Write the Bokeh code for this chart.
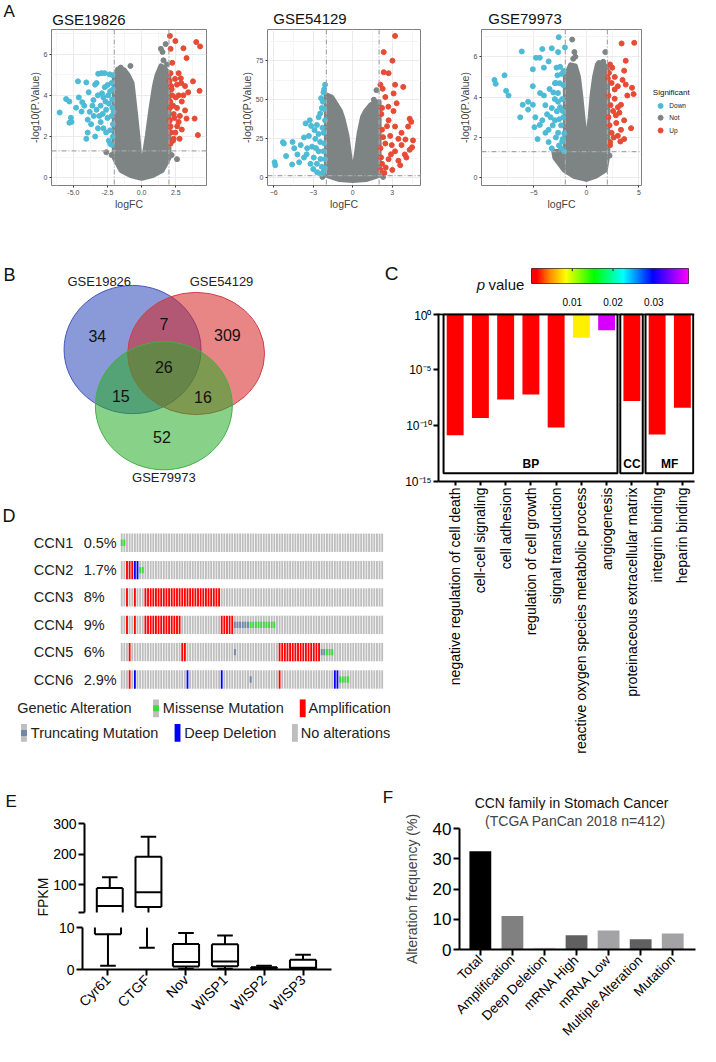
import numpy as np
from bokeh.plotting import figure
from bokeh.models import (Range1d, FixedTicker, Span, Title, ColumnDataSource,
                          LinearColorMapper, PrintfTickFormatter)
from bokeh.layouts import row, column
from bokeh.embed import file_html
from bokeh.resources import INLINE
from bokeh.core.properties import value
from bokeh.transform import linear_cmap

FONT = "Liberation Sans"
GREY = "#7E8484"
BLUE = "#4DBBD5"
RED = "#E64B35"

# ---------------- Panel A data (logFC, -log10 p) ----------------
a_titles = ["GSE19826", "GSE54129", "GSE79973"]
sig_labels = ["Down", "Not", "Up"]

a1_down = [(-6.0,3.17),(-5.53,3.82),(-5.29,3.7),(-5.18,2.91),(-5.13,2.71),(-5.29,2.67),(-4.66,4.68),
           (-4.35,3.67),(-4.4,3.21),(-4.05,4.63),(-3.88,4.15),(-3.95,2.82),(-4.05,1.89),(-3.95,2.19),
           (-3.41,4.52),(-3.53,3.77),(-3.18,5.05),(-2.94,5.08),(-2.71,5.08),(-2.35,5.02),(-2.12,4.98),
           (-3.2,4.0),(-3.0,3.5),(-2.8,3.9),(-2.6,3.3),(-2.4,3.6),(-2.2,3.0),(-2.1,2.6),(-2.3,4.2),
           (-2.5,4.5),(-2.7,4.4),(-2.9,4.1),(-3.3,3.3),(-3.5,3.0),(-3.6,3.5),(-3.8,3.2),(-3.0,2.7),
           (-2.8,2.4),(-2.6,2.2),(-2.4,1.8),(-2.2,1.6),(-2.1,2.0),(-2.5,2.9),(-3.2,2.4),(-3.4,2.0),
           (-2.3,1.65),(-3.1,3.0),(-2.15,3.4),(-2.2,4.6),(-2.45,4.0),(-2.65,3.7),(-2.85,3.1),(-3.7,2.6),
           (-4.2,3.5),(-4.6,3.9),(-4.8,3.4),(-3.3,4.6),(-2.1,4.3),(-2.15,3.8),(-2.3,2.3),(-2.05,3.2)]
a1_up = [(2.07,6.89),(2.12,6.26),(2.47,6.64),(3.06,6.29),(4.0,6.59),(4.28,6.38),(3.29,5.81),(2.24,5.58),
         (2.12,5.08),(2.71,5.08),(2.87,4.83),(3.76,4.68),(4.24,4.22),(3.41,4.15),(3.18,4.45),(2.59,4.52),
         (2.24,4.0),(2.94,3.7),(2.59,3.39),(2.35,3.09),(3.18,3.27),(3.29,2.87),(2.71,2.71),(2.12,2.49),
         (2.47,2.19),(2.94,2.34),(3.88,2.87),(4.12,2.07),(2.12,1.66),(2.35,1.89),(2.07,3.39),(2.16,4.45),
         (2.07,2.79),(2.71,4.0),(3.06,4.0),(2.78,1.89),(2.3,3.5),(2.2,4.3),(2.5,3.9),(2.6,2.5),(2.4,2.9),
         (2.15,2.2),(2.8,3.0),(2.3,1.8),(2.05,4.7),(2.9,4.6),(2.1,3.7),(2.45,4.8)]
a1_not = [(1.76,6.49),(1.41,6.26),(1.53,6.11),(1.6,5.7),(1.85,5.5),(-0.82,5.43),(-1.53,5.35),(-1.75,5.2),
          (-2.59,1.24),(2.59,0.9),(-1.1,0.3),(-2.2,1.1),(2.2,1.1),(-0.3,0.1),(0.5,0.2)]
a1_dense = [(-2.0,0.95),(-2.0,4.9),(-1.75,5.28),(-1.3,5.25),(-1.0,5.0),(-0.7,4.6),(-0.47,3.24),(-0.28,2.04),
            (-0.12,0.83),(0.0,0.35),(0.15,0.9),(0.42,2.04),(0.66,3.24),(0.94,4.45),(1.13,4.98),(1.41,5.43),
            (1.7,5.3),(2.0,5.05),(2.0,0.95),(1.5,0.35),(0.8,0.1),(0.0,-0.03),(-0.8,0.1),(-1.5,0.35)]

a2_down = [(-5.93,9.9),(-5.88,8.0),(-5.23,21.9),(-5.3,22.8),(-5.06,13.9),(-4.57,22.9),(-4.44,18.9),
           (-4.2,14.9),(-3.95,20.9),(-3.7,25.8),(-3.58,34.8),(-3.26,36.8),(-3.16,33.2),(-3.33,26.8),
           (-2.72,33.8),(-2.47,41.2),(-2.35,44.7),(-2.27,48.7),(-2.22,54.7),(-2.1,59.6),(-2.17,56.7),
           (-2.59,38.8),(-2.84,24.9),(-3.09,19.9),(-3.46,18.9),(-3.7,12.9),(-3.21,8.9),(-2.72,8.9),
           (-2.35,7.0),(-2.22,4.0),(-2.59,16.9),(-2.96,12.9),(-2.47,22.9),(-2.22,28.8),(-2.1,36.8),
           (-2.22,16.9),(-2.1,11.9),(-4.07,9.9),(-2.3,32.0),(-2.6,28.0),(-2.9,30.5),(-2.15,44.0),
           (-2.4,51.0),(-2.8,19.0),(-3.5,15.0),(-2.15,22.0),(-2.45,12.0),(-2.1,6.0),(-3.0,5.5),
           (-2.7,3.5),(-2.35,2.5),(-4.6,8.5)]
a2_up = [(3.21,90.9),(2.35,80.5),(3.01,75.0),(2.35,67.6),(2.72,67.0),(2.1,59.6),(2.27,57.0),(3.21,59.6),
         (3.83,58.2),(2.47,51.7),(3.33,47.7),(3.09,42.7),(2.22,44.7),(2.17,40.8),(2.72,36.8),(4.32,37.8),
         (4.44,35.8),(4.2,32.8),(3.7,28.8),(4.57,23.9),(3.46,24.9),(2.84,26.8),(2.22,30.8),(2.47,21.9),
         (2.1,18.9),(3.21,16.9),(3.95,14.9),(4.32,17.9),(2.72,11.9),(2.22,8.9),(2.1,5.0),(3.46,10.9),
         (4.07,12.9),(2.96,20.9),(3.7,20.9),(3.21,32.8),(2.6,33.0),(2.3,26.0),(2.9,15.0),(2.5,6.5),
         (3.0,5.0),(2.15,13.0),(2.7,45.5),(3.1,54.0),(4.5,19.5),(3.6,8.0),(2.4,3.0),(4.0,24.5)]
a2_not = [(-1.98,52.7),(1.8,56.1),(1.6,50.0),(-1.7,50.5),(-2.3,0.5),(2.3,0.5)]
a2_dense = [(-2.0,1.5),(-2.0,53.0),(-1.6,51.7),(-1.23,46.7),(-0.94,42.7),(-0.74,37.8),(-0.44,26.8),
            (-0.25,14.9),(-0.12,7.0),(0.0,4.0),(0.12,7.0),(0.3,16.9),(0.49,28.8),(0.74,38.8),(0.94,42.3),
            (1.36,46.7),(1.68,48.3),(2.0,48.7),(2.0,1.5),(1.0,-1.2),(0.0,-1.8),(-1.0,-1.2)]

a3_down = [(-8.74,4.85),(-8.62,4.66),(-7.78,5.08),(-7.63,4.31),(-7.4,4.08),(-6.29,3.0),(-6.05,3.62),
           (-6.14,6.26),(-5.09,5.38),(-5.09,4.54),(-4.94,2.51),(-4.79,5.95),(-4.43,5.95),(-4.19,6.38),
           (-4.04,5.46),(-3.59,5.77),(-3.29,6.42),(-2.69,6.23),(-2.63,6.97),(-2.04,6.46),(-2.84,5.46),
           (-2.34,5.15),(-2.75,5.08),(-2.99,4.69),(-2.54,4.69),(-5.09,3.62),(-5.54,3.77),(-5.54,3.38),
           (-4.85,3.0),(-4.64,1.92),(-4.43,2.62),(-4.04,4.08),(-3.89,2.23),(-3.59,1.77),(-3.29,1.46),
           (-3.29,3.46),(-3.74,3.15),(-4.19,2.85),(-2.99,2.85),(-2.69,2.23),(-2.4,1.46),(-2.1,1.31),
           (-2.25,1.92),(-2.69,3.77),(-2.25,3.31),(-3.14,4.23),(-3.59,2.38),(-2.2,4.6),(-2.3,3.9),
           (-2.5,3.5),(-2.2,3.0),(-2.4,2.6),(-2.6,2.9),(-2.8,3.3),(-3.0,3.9),(-2.7,4.2),(-2.1,2.2),
           (-2.3,1.8),(-2.6,1.6),(-2.9,2.0),(-3.2,2.6),(-3.4,3.0),(-2.15,5.3),(-2.5,5.5),(-2.9,4.7),
           (-3.5,4.4),(-3.9,3.6),(-4.4,4.2)]
a3_up = [(3.35,6.66),(4.55,6.69),(3.74,5.8),(2.25,5.62),(2.46,5.46),(3.59,5.31),(3.44,4.85),(4.34,4.46),
         (4.49,4.15),(3.89,4.08),(3.74,4.62),(2.99,4.54),(2.69,3.92),(3.29,3.62),(3.14,3.23),(3.59,2.85),
         (4.25,2.46),(2.84,2.72),(3.29,2.38),(3.59,1.92),(3.23,1.8),(2.4,2.23),(2.25,1.77),(2.1,3.0),
         (2.54,3.31),(2.1,4.08),(2.69,4.38),(2.25,1.62),(2.99,2.08),(2.04,4.92),(2.3,3.6),(2.2,2.6),
         (2.6,2.0),(2.8,3.1),(2.4,4.7),(2.15,5.2),(2.7,5.0),(3.0,3.5)]
a3_not = [(-1.35,6.85),(-1.14,6.23),(-1.05,6.0),(-1.25,5.9),(1.8,6.23),(1.2,5.69),(1.6,5.75),
          (-2.5,1.1),(-2.8,1.2),(2.2,1.1)]
a3_dense = [(-2.0,1.3),(-2.0,5.0),(-1.8,5.23),(-1.5,5.6),(-1.05,5.54),(-0.75,5.0),(-0.54,4.08),(-0.3,2.85),
            (-0.15,2.08),(0.0,1.58),(0.15,2.08),(0.36,3.0),(0.54,4.08),(0.78,5.0),(1.05,5.62),(1.5,5.69),
            (1.95,5.46),(2.0,5.3),(2.04,1.15),(1.8,0.38),(0.9,0.08),(0.0,-0.08),(-1.2,0.08),(-2.1,0.38),
            (-3.0,1.0),(-3.1,1.3)]
a_fc_cut = 2.0
a_p_cut = 1.3

# ---------------- Panel B data ----------------
venn_sets = ["GSE19826", "GSE54129", "GSE79973"]
venn_regions = ["1", "2", "3", "12", "13", "23", "123"]
venn_counts = [34, 309, 52, 7, 15, 16, 26]

# ---------------- Panel C data ----------------
go_terms = ["negative regulation of cell death", "cell-cell signaling", "cell adhesion",
            "regulation of cell growth", "signal transduction",
            "reactive oxygen species metabolic process", "angiogenesis",
            "proteinaceous extracellular matrix", "integrin binding", "heparin binding"]
go_p = [1.4e-11, 5e-10, 2.3e-8, 6.3e-8, 7e-11, 7.9e-3, 3.7e-2, 1.65e-8, 1.6e-11, 4e-9]
go_group = ["BP", "BP", "BP", "BP", "BP", "BP", "BP", "CC", "MF", "MF"]
cb_ticks = [0.01, 0.02, 0.03]

# ---------------- Panel D data ----------------
onco_genes = ["CCN1", "CCN2", "CCN3", "CCN4", "CCN5", "CCN6"]
onco_pct = ["0.5%", "1.7%", "8%", "9%", "6%", "2.9%"]
onco_columns = 100
onco_amp = {"CCN2": [(2, 4)], "CCN3": [(2, 2), (5, 5), (9, 37)],
            "CCN4": [(2, 2), (5, 5), (9, 22), (38, 42)],
            "CCN5": [(3, 3), (23, 24), (60, 75)], "CCN6": [(3, 3), (60, 60)]}
onco_del = {"CCN2": [(5, 6)], "CCN6": [(5, 5), (25, 25), (38, 38), (81, 82)]}
onco_missense = {"CCN1": [(0, 1)], "CCN2": [(7, 8)], "CCN4": [(49, 58)],
                 "CCN5": [(78, 80)], "CCN6": [(83, 86)]}
onco_trunc = {"CCN4": [(43, 48)], "CCN5": [(43, 43), (76, 77)], "CCN6": [(49, 49)]}
onco_legend = ["Genetic Alteration", "Missense Mutation", "Amplification",
               "Truncating Mutation", "Deep Deletion", "No alterations"]

# ---------------- Panel E data ----------------
e_genes = ["Cyr61", "CTGF", "Nov", "WISP1", "WISP2", "WISP3"]
e_min = [0.9, 5.2, 0.15, 0.15, 0.05, 0.05]
e_q1 = [8.4, 28.0, 0.7, 0.8, 0.25, 0.2]
e_med = [31.0, 76.0, 1.8, 1.9, 0.4, 0.4]
e_q3 = [90.0, 192.0, 6.1, 6.0, 0.55, 2.3]
e_max = [125.0, 257.0, 8.7, 8.1, 0.9, 3.5]

# ---------------- Panel F data ----------------
f_title = ["CCN family  in Stomach Cancer", "(TCGA PanCan 2018  n=412)"]
f_cats = ["Total", "Amplification", "Deep Deletion", "mRNA High", "mRNA Low",
          "Multiple Alteration", "Mutation"]
f_vals = [32.5, 11.1, 0.6, 4.7, 6.3, 3.4, 5.3]
f_colors = ["#000000", "#808080", "#D9D9D9", "#606060", "#A3A3A6", "#606060", "#A3A3A6"]


# ---------------- helpers ----------------
def unzip(pts):
    return [a for a, b in pts], [b for a, b in pts]


def base_fig(w, h, l, r, t, b, **kw):
    return figure(width=w, height=h, output_backend="svg", toolbar_location=None,
                  min_border_left=l, min_border_right=r, min_border_top=t, min_border_bottom=b, **kw)


def free_fig(w, h, x0, x1, ytop, ybot):
    """Axis-less figure whose data coordinates follow the reference layout pixels."""
    p = base_fig(w, h, 0, 0, 0, 0, x_range=Range1d(x0, x1), y_range=Range1d(ybot, ytop))
    p.axis.visible = False
    p.grid.visible = False
    p.outline_line_color = None
    return p


def txt(p, xs, ys, texts, size, align="left", baseline="middle", style="normal", angle=0, color="#111111"):
    p.text(x=xs, y=ys, text=texts, text_font=value(FONT), text_font_size=value(size),
           text_align=align, text_baseline=baseline, text_font_style=style, angle=angle,
           text_color=color)


def W(p):
    return column(p)


def volcano(w, h, l, r, t, b, xr, yr, xt, xm, yt, ym, down, up, notp, dense, xfmt=None):
    p = base_fig(w, h, l, r, t, b, x_range=Range1d(*xr), y_range=Range1d(*yr))
    p.outline_line_color = "#7F7F7F"
    p.outline_line_width = 1
    p.xaxis.ticker = FixedTicker(ticks=xt, minor_ticks=xm)
    p.yaxis.ticker = FixedTicker(ticks=yt, minor_ticks=ym)
    if xfmt:
        p.xaxis.formatter = PrintfTickFormatter(format=xfmt)
    p.xaxis.axis_label = "logFC"
    p.yaxis.axis_label = "-log10(P.Value)"
    for ax in [p.xaxis[0], p.yaxis[0]]:
        ax.axis_line_color = None
        ax.major_tick_line_color = "#333333"
        ax.major_tick_out = 2
        ax.major_tick_in = 0
        ax.minor_tick_line_color = None
        ax.major_label_text_font = FONT
        ax.major_label_text_font_size = "7px"
        ax.major_label_text_color = "#4D4D4D"
        ax.major_label_standoff = 0
        ax.axis_label_text_font = FONT
        ax.axis_label_text_font_size = "10.5px"
        ax.axis_label_text_font_style = "normal"
        ax.axis_label_standoff = 0
    for g in [p.xgrid[0], p.ygrid[0]]:
        g.grid_line_color = "#EBEBEB"
        g.minor_grid_line_color = "#F5F5F5"
    dx, dy = unzip(dense)
    p.patch(dx, dy, fill_color=GREY, line_color=GREY, line_width=5, line_join="round")
    nx, ny = unzip(notp)
    p.scatter(nx, ny, size=5, color=GREY)
    ux, uy = unzip(up)
    p.scatter(ux, uy, size=5, color=RED)
    wx, wy = unzip(down)
    p.scatter(wx, wy, size=5, color=BLUE)
    for loc in (-a_fc_cut, a_fc_cut):
        p.add_layout(Span(location=loc, dimension="height", line_color="#A8A8A8",
                          line_dash="5 2 1 2", line_width=1.2))
    p.add_layout(Span(location=a_p_cut, dimension="width", line_color="#A8A8A8",
                      line_dash="5 2 1 2", line_width=1.2))
    return p


# ---------------- Panel A ----------------
a_strip = free_fig(700, 27, 0, 716, 0, 27.4)
txt(a_strip, [3], [2], ["A"], "17px", baseline="top")
txt(a_strip, [53, 279, 499], [19, 18, 18], a_titles, "15px")

a1 = volcano(228, 185, 51, 22, 2, 22, (-6.6, 4.75), (-0.38, 7.2),
             [-5, -2.5, 0, 2.5], [-6.25, -3.75, -1.25, 1.25, 3.75], [0, 2, 4, 6], [1, 3, 5, 7],
             a1_down, a1_up, a1_not, a1_dense, xfmt="%.1f")
a2 = volcano(222, 185, 39, 30, 2, 22, (-6.47, 5.14), (-5, 95),
             [-6, -3, 0, 3], [-4.5, -1.5, 1.5, 4.5], [0, 25, 50, 75], [12.5, 37.5, 62.5, 87.5],
             a2_down, a2_up, a2_not, a2_dense)
a3 = volcano(192, 185, 31, 1, 2, 22, (-9.97, 5.24), (-0.38, 7.35),
             [-5, 0, 5], [-7.5, -2.5, 2.5], [0, 2, 4, 6], [1, 3, 5, 7],
             a3_down, a3_up, a3_not, a3_dense)
# legend of the significance groups (drawn beside the third volcano plot)
a_leg = free_fig(58, 185, 656.4, 716, 27.4, 215.2)
txt(a_leg, [667], [93], ["Significant"], "8px", color="#111111")
a_leg.scatter(x=[675, 675, 675], y=[107, 119, 132], size=5, color=[BLUE, GREY, RED])
txt(a_leg, [684, 684, 684], [107, 119, 132], sig_labels, "6.5px", color="#222222")

# ---------------- Panel B (Venn) + letter C ----------------
b = free_fig(401, 280, 0, 410, 215, 499)
venn_geo_x = [135, 200, 167]
venn_geo_y = [354, 358, 411]
venn_geo_h = [130, 124, 130]
venn_fill = ["#2A47B8", "#D52323", "#27AB27"]
venn_line = ["#4656BE", "#D0404E", "#45AE45"]
for i in range(3):
    b.ellipse(x=[venn_geo_x[i]], y=[venn_geo_y[i]], width=140, height=venn_geo_h[i],
              fill_color=venn_fill[i], fill_alpha=0.55, line_color=venn_line[i], line_width=1)
txt(b, [101, 226, 167], [285, 285, 484], venn_sets, "13px", align="center", color="#222222")
reg_pos = {"1": (99, 340), "2": (232, 339), "3": (165, 443), "12": (167, 328),
           "13": (123, 401), "23": (207, 402), "123": (167, 372)}
txt(b, [reg_pos[r][0] for r in venn_regions], [reg_pos[r][1] for r in venn_regions],
    [str(c) for c in venn_counts], "16px", align="center")
txt(b, [3], [268], ["B"], "18px", baseline="top")
txt(b, [393], [266], ["C"], "19px", baseline="top")

# ---------------- Panel D (oncoprint) ----------------
d = free_fig(401, 272, 0, 410, 499, 775)
X0, PITCH, CW, HH = 123.0, 2.69, 1.9, 9.3
row_y = [550 + 27.75 * i for i in range(len(onco_genes))]


def expand(runs):
    out = []
    for s, e in runs:
        out.extend(range(s, e + 1))
    return out


cell = dict(l=[], r=[], t=[], b=[], c=[])
mut = dict(l=[], r=[], t=[], b=[], c=[])
for gi, g in enumerate(onco_genes):
    yc = row_y[gi]
    amp = set(expand(onco_amp.get(g, [])))
    dl = set(expand(onco_del.get(g, [])))
    for k in range(onco_columns):
        col = "#FF0000" if k in amp else ("#0000FF" if k in dl else "#BEBEBE")
        cell["l"].append(X0 + PITCH * k); cell["r"].append(X0 + PITCH * k + CW)
        cell["t"].append(yc - HH); cell["b"].append(yc + HH); cell["c"].append(col)
    for runs, col in ((onco_missense.get(g, []), "#3BDB3B"), (onco_trunc.get(g, []), "#6F86A6")):
        for k in expand(runs):
            mut["l"].append(X0 + PITCH * k); mut["r"].append(X0 + PITCH * k + CW)
            mut["t"].append(yc - 3.2); mut["b"].append(yc + 3.2); mut["c"].append(col)
d.quad(left=cell["l"], right=cell["r"], top=cell["t"], bottom=cell["b"], fill_color=cell["c"], line_color=None)
d.quad(left=mut["l"], right=mut["r"], top=mut["t"], bottom=mut["b"], fill_color=mut["c"], line_color=None)
txt(d, [34] * 6, row_y, onco_genes, "14.5px", color="#222222")
txt(d, [85] * 6, row_y, onco_pct, "14.5px", color="#222222")
icon_l = [156, 306, 21, 178, 298]
icon_y = [718, 718, 743, 743, 743]
icon_c = ["#BEBEBE", "#FF0000", "#BEBEBE", "#0000FF", "#BEBEBE"]
d.quad(left=icon_l, right=[v + 6 for v in icon_l], top=[v - 9 for v in icon_y],
       bottom=[v + 9 for v in icon_y], fill_color=icon_c, line_color=None)
d.quad(left=[156, 21], right=[162, 27], top=[715, 740], bottom=[721, 746],
       fill_color=["#3BDB3B", "#6F86A6"], line_color=None)
txt(d, [17, 166, 315, 31, 188, 307], [718, 718, 718, 743, 743, 743], onco_legend, "14.5px", color="#222222")
txt(d, [2], [513], ["D"], "18px", baseline="top")

# ---------------- Panel C ----------------
CB_STOPS = [(0.0, "#FF0000"), (0.0012, "#FF0000"), (0.0045, "#FF8C00"), (0.0084, "#FFFF00"),
            (0.0153, "#00FF00"), (0.0225, "#00FFFF"), (0.0298, "#0000FF"), (0.0385, "#FF00FF")]
CB_HIGH = 0.0385


def make_palette(stops, n):
    pal = []
    for i in range(n):
        t = stops[-1][0] * i / (n - 1)
        for j in range(len(stops) - 1):
            a, ca = stops[j]
            bb, cbb = stops[j + 1]
            if a <= t <= bb:
                f = 0 if bb == a else (t - a) / (bb - a)
                c1 = [int(ca[k:k + 2], 16) for k in (1, 3, 5)]
                c2 = [int(cbb[k:k + 2], 16) for k in (1, 3, 5)]
                pal.append("#%02X%02X%02X" % tuple(int(round(c1[m] + (c2[m] - c1[m]) * f)) for m in range(3)))
                break
    return pal


PAL = make_palette(CB_STOPS, 256)
mapper = LinearColorMapper(palette=PAL, low=0, high=CB_HIGH)

c_lab = free_fig(130, 96, 410, 543, 215, 312.5)
txt(c_lab, [487], [288], ["p"], "15px", baseline="alphabetic", style="italic")
txt(c_lab, [499], [288], ["value"], "15px", baseline="alphabetic")

ccb = base_fig(169, 96, 0, 12, 56, 19, x_range=Range1d(0, CB_HIGH), y_range=Range1d(0, 1))
ccb.image(image=[np.linspace(0, CB_HIGH, 256)[None, :]], x=0, y=0, dw=CB_HIGH, dh=1, color_mapper=mapper)
ccb.segment(x0=cb_ticks, y0=[1] * 3, x1=cb_ticks, y1=[0.82] * 3, line_color="#222222", line_width=1)
ccb.yaxis.visible = False
ccb.grid.visible = False
ccb.outline_line_color = "#333333"
ccb.xaxis.ticker = FixedTicker(ticks=cb_ticks)
ccb.xaxis.axis_line_color = None
ccb.xaxis.major_tick_line_color = None
ccb.xaxis.minor_tick_line_color = None
ccb.xaxis.major_label_text_font = FONT
ccb.xaxis.major_label_text_font_size = "10px"
ccb.xaxis.major_label_text_color = "black"
ccb.xaxis.major_label_standoff = 8

csrc = ColumnDataSource(dict(x=list(range(len(go_terms))), p=go_p))
cm = base_fig(299, 456, 37, 6, 5, 283, x_range=Range1d(-0.66, 9.48), y_range=Range1d(1e-15, 1.15),
              y_axis_type="log")
cm.grid.visible = False
cm.outline_line_color = None
cm.vbar(x="x", top=1, bottom="p", width=0.67, source=csrc,
        fill_color=linear_cmap("p", PAL, 0, CB_HIGH), line_color=None)
groups = []
for g in go_group:
    if g not in groups:
        groups.append(g)
gl, gr, gc = [], [], []
for g in groups:
    idx = [i for i, v in enumerate(go_group) if v == g]
    gl.append(min(idx) - 0.46)
    gr.append(max(idx) + 0.43)
    gc.append((min(idx) + max(idx)) / 2)
cm.quad(left=gl, right=gr, top=1, bottom=10 ** -14.25, fill_color=None, line_color="black", line_width=2)
cm.add_layout(Span(location=1, dimension="width", line_color="black", line_width=2))
txt(cm, gc, [10 ** -13.4] * len(gc), groups, "12px", align="center", style="bold", color="black")


def prism_axis(ax, size, tick_out=6):
    ax.axis_line_width = 2
    ax.axis_line_color = "black"
    ax.major_tick_line_width = 2
    ax.major_tick_line_color = "black"
    ax.major_tick_out = tick_out
    ax.major_tick_in = 0
    ax.minor_tick_line_color = None
    ax.major_label_text_font = FONT
    ax.major_label_text_font_size = size
    ax.major_label_text_color = "black"
    ax.axis_label_text_font = FONT
    ax.axis_label_text_font_style = "normal"
    ax.major_label_standoff = 2


prism_axis(cm.yaxis[0], "12px", 5)
cm.yaxis.ticker = FixedTicker(ticks=[1e-15, 1e-10, 1e-5, 1])
cm.yaxis.major_label_overrides = {1e-15: "10\u207b\u00b9\u2075", 1e-10: "10\u207b\u00b9\u2070",
                                  1e-5: "10\u207b\u2075", 1: "10\u2070"}
prism_axis(cm.xaxis[0], "14px", 4)
cm.xaxis.ticker = FixedTicker(ticks=list(range(len(go_terms))))
cm.xaxis.major_label_overrides = {i: t for i, t in enumerate(go_terms)}
cm.xaxis.major_label_orientation = np.pi / 2

# ---------------- Panel E (broken y axis: two stacked plots) ----------------
ex = list(range(len(e_genes)))


def draw_box(p, lo, hi):
    def keep(vals):
        return [i for i, v in enumerate(vals) if lo <= v <= hi]
    p.segment(x0=ex, y0=e_q3, x1=ex, y1=e_max, line_width=2, line_color="black")
    p.segment(x0=ex, y0=e_min, x1=ex, y1=e_q1, line_width=2, line_color="black")
    p.vbar(x=ex, width=0.67, top=e_q3, bottom=e_q1, fill_color="white", line_color=None)
    p.segment(x0=[v - 0.335 for v in ex], y0=e_q1, x1=[v - 0.335 for v in ex], y1=e_q3,
              line_width=2, line_color="black")
    p.segment(x0=[v + 0.335 for v in ex], y0=e_q1, x1=[v + 0.335 for v in ex], y1=e_q3,
              line_width=2, line_color="black")
    for vals, half in ((e_q1, 0.335), (e_q3, 0.335), (e_med, 0.335), (e_max, 0.2), (e_min, 0.2)):
        ii = keep(vals)
        p.segment(x0=[ex[i] - half for i in ii], y0=[vals[i] for i in ii],
                  x1=[ex[i] + half for i in ii], y1=[vals[i] for i in ii],
                  line_width=2, line_color="black")


e_lab = free_fig(50, 282, 0, 51.1, 775, 1062)
txt(e_lab, [5], [803], ["E"], "17px", baseline="top")
txt(e_lab, [43], [910], ["FPKM"], "14px", align="center", angle=np.pi / 2)

e_xr = Range1d(-0.653, 5.73)
etop = base_fig(305, 155, 32, 24, 59, 7, x_range=e_xr, y_range=Range1d(10, 300))
ebot = base_fig(305, 127, 32, 24, 8, 77, x_range=e_xr, y_range=Range1d(0, 10))
draw_box(etop, 10, 300)
draw_box(ebot, 0, 10)
for p in (etop, ebot):
    p.grid.visible = False
    p.outline_line_color = None
    prism_axis(p.yaxis[0], "14px", 6)
etop.xaxis.visible = False
etop.yaxis.ticker = FixedTicker(ticks=[100, 200, 300], minor_ticks=[10])
etop.yaxis.minor_tick_line_color = "black"
etop.yaxis.minor_tick_line_width = 2
etop.yaxis.minor_tick_out = 6
etop.yaxis.minor_tick_in = 0
ebot.yaxis.ticker = FixedTicker(ticks=[0, 10])
prism_axis(ebot.xaxis[0], "14px", 6)
ebot.xaxis.ticker = FixedTicker(ticks=ex)
ebot.xaxis.major_label_overrides = {i: g for i, g in enumerate(e_genes)}
ebot.xaxis.major_label_orientation = np.pi / 4

# ---------------- Panel F ----------------
f_head = free_fig(345, 46, 363, 716, 775, 821.7)
txt(f_head, [391], [799], ["F"], "17px", baseline="top")
txt(f_head, [586], [814], [f_title[0]], "14px", align="center")

fx = list(range(len(f_cats)))
fsrc = ColumnDataSource(dict(x=fx, v=f_vals, c=f_colors))
f = base_fig(345, 236, 104, 5, 18, 92, x_range=Range1d(-0.65, 6.71), y_range=Range1d(0, 40))
f.add_layout(Title(text=f_title[1], align="center", text_font=FONT, text_font_size="14px",
                   text_font_style="normal", standoff=0), "above")
f.grid.visible = False
f.outline_line_color = None
f.vbar(x="x", top="v", width=0.68, source=fsrc, fill_color="c", line_color=None)
prism_axis(f.yaxis[0], "17px", 6)
f.yaxis.ticker = FixedTicker(ticks=[0, 10, 20, 30, 40])
f.yaxis.axis_label = "Alteration frequency (%)"
f.yaxis.axis_label_text_font_size = "14px"
f.yaxis.axis_label_standoff = 10
prism_axis(f.xaxis[0], "13.5px", 6)
f.xaxis.ticker = FixedTicker(ticks=fx)
f.xaxis.major_label_overrides = {i: c for i, c in enumerate(f_cats)}
f.xaxis.major_label_orientation = np.pi / 4

layout = column(
    W(a_strip),
    row(W(a1), W(a2), W(a3), W(a_leg)),
    row(column(W(b), W(d)), column(row(W(c_lab), W(ccb)), W(cm))),
    row(row(W(e_lab), column(W(etop), W(ebot))), column(W(f_head), W(f))),
)
open("out.html", "w").write(file_html(layout, INLINE))
